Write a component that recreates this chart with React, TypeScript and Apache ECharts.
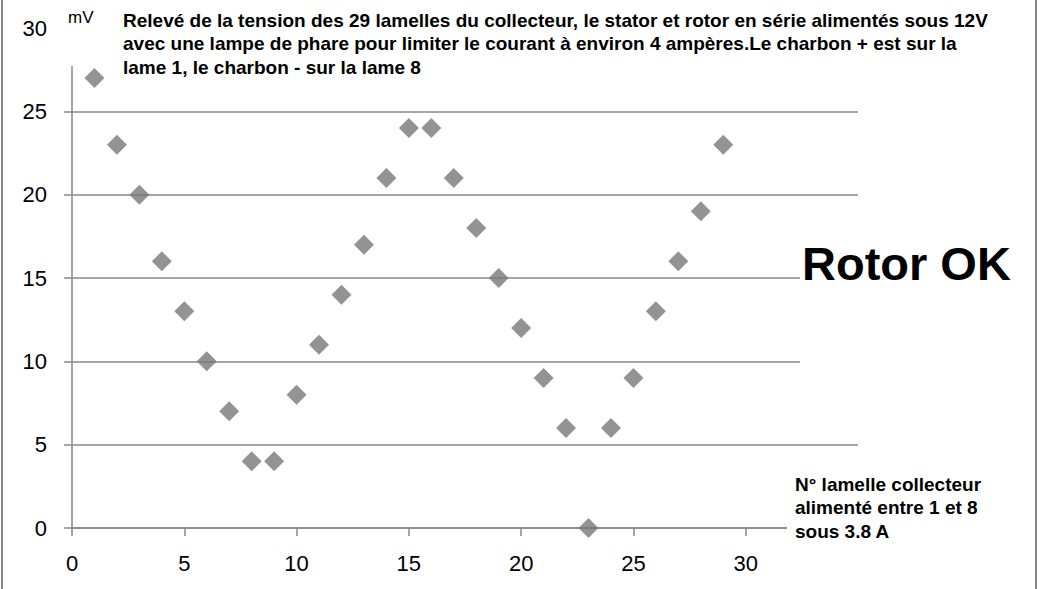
import React, { useEffect, useRef } from "react";
import * as echarts from "echarts";

const lamelles = [1,2,3,4,5,6,7,8,9,10,11,12,13,14,15,16,17,18,19,20,21,22,23,24,25,26,27,28,29];
const tensions = [27,23,20,16,13,10,7,4,4,8,11,14,17,21,24,24,21,18,15,12,9,6,0,6,9,13,16,19,23];
const titleLines = [
  "Relevé de la tension des 29 lamelles du collecteur, le stator et rotor en série alimentés sous 12V",
  "avec une lampe de phare pour limiter le courant à environ 4 ampères.Le charbon + est sur la",
  "lame 1, le charbon - sur la lame 8",
];
const noteLines = ["N° lamelle collecteur", "alimenté entre 1 et 8", "sous 3.8 A"];
const unitLabel = "mV";
const verdict = "Rotor OK";

const GRAY = "#878787";
const FONT = "'Liberation Sans', Arial, sans-serif";

export default function App() {
  const ref = useRef<HTMLDivElement>(null);
  useEffect(() => {
    const chart = echarts.init(ref.current!, null, { renderer: "svg" });
    chart.setOption({
      animation: false,
      backgroundColor: "#ffffff",
      grid: { left: 72, top: 28, right: 187, bottom: 61 },
      xAxis: {
        type: "value",
        min: 0,
        max: 35,
        interval: 5,
        axisLine: { show: true, onZero: false, lineStyle: { color: GRAY, width: 1.5 } },
        axisTick: { show: true, length: 8, lineStyle: { color: GRAY, width: 1.5 } },
        axisLabel: {
          color: "#000",
          fontSize: 22,
          fontFamily: FONT,
          margin: 24,
          formatter: (v: number) => (v > 30 ? "" : String(v)),
        },
        splitLine: { show: false },
      },
      yAxis: {
        type: "value",
        min: 0,
        max: 30,
        interval: 5,
        axisLine: { show: true, lineStyle: { color: GRAY, width: 1.5 } },
        axisTick: { show: true, length: 8, lineStyle: { color: GRAY, width: 1.5 } },
        axisLabel: { color: "#000", fontSize: 22, fontFamily: FONT, margin: 25 },
        splitLine: { show: true, lineStyle: { color: GRAY, width: 1.5 } },
      },
      series: [
        {
          type: "scatter",
          data: lamelles.map((x, i) => [x, tensions[i]]),
          symbol: "diamond",
          symbolSize: [20, 20],
          itemStyle: { color: "#787878" },
        },
      ],
      graphic: [
        { type: "rect", shape: { x: 2, y: -5, width: 1034, height: 600 }, style: { fill: "none", stroke: GRAY, lineWidth: 2 }, z: 100 },
        { type: "rect", shape: { x: 62, y: 0, width: 948, height: 66 }, style: { fill: "#fff" }, z: 90 },
        { type: "text", x: 68, y: 17, style: { text: unitLabel, font: `17px ${FONT}`, fill: "#000", textVerticalAlign: "middle" }, z: 101 },
        ...titleLines.map((t, i) => ({
          type: "text",
          x: 123,
          y: 20 + i * 23.5,
          style: { text: t, font: `bold 19px ${FONT}`, fill: "#000", textVerticalAlign: "middle" },
          z: 101,
        })),
        { type: "rect", shape: { x: 800, y: 232, width: 225, height: 138 }, style: { fill: "#fff" }, z: 90 },
        { type: "text", x: 802, y: 263, style: { text: verdict, font: `bold 47px ${FONT}`, fill: "#000", textVerticalAlign: "middle" }, z: 101 },
        { type: "rect", shape: { x: 787, y: 466, width: 230, height: 82 }, style: { fill: "#fff" }, z: 90 },
        ...noteLines.map((t, i) => ({
          type: "text",
          x: 795,
          y: 484 + i * 23.5,
          style: { text: t, font: `bold 19px ${FONT}`, fill: "#000", textVerticalAlign: "middle" },
          z: 101,
        })),
      ],
    });
    return () => chart.dispose();
  }, []);
  return <div ref={ref} style={{ width: 1045, height: 589, position: "absolute", left: 0, top: 0 }} />;
}
